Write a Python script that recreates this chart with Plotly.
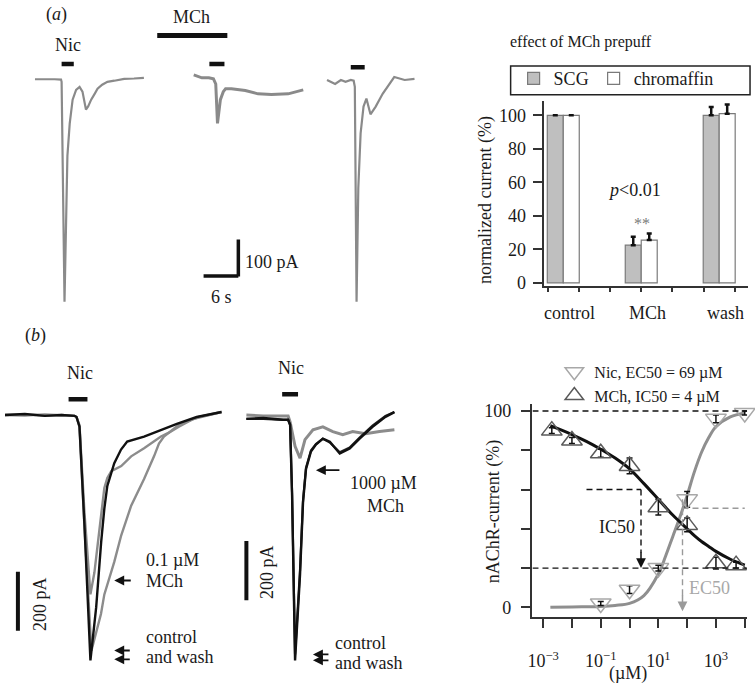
import math
import plotly.graph_objects as go

W, H = 755, 691
FONT = "Liberation Serif"
INK = "#1a1a1a"
GRAY = "#8a8a8a"

# ---------------- DATA ----------------
# (a) whole-cell current sweeps: time (s), current (pA)
a_sweep1_t = [0.2, 1.9, 3.6, 4.7, 4.8, 5.3, 5.8, 6.2, 6.7, 7.3, 7.9, 8.4, 9.0, 9.4, 9.9, 10.5, 11.0, 11.8, 12.7, 13.9, 15.6, 17.3, 19.0]
a_sweep1_i = [-1, 0, -1, -2, -8, -611, -211, -122, -57, -30, -22, -35, -84, -75, -57, -41, -27, -16, -8, -5, 0, 1, 3]
a_sweep2_t = [27.6, 29.0, 30.2, 31.0, 31.4, 31.7, 32.2, 32.7, 33.1, 34.1, 36.5, 38.7, 41.0, 43.9, 46.5]
a_sweep2_i = [11, 3, 3, 0, -14, -122, -57, -35, -27, -27, -32, -41, -43, -41, -30]
a_sweep3_t = [50.6, 52.0, 53.0, 53.8, 54.7, 55.2, 55.4, 55.7, 56.0, 56.4, 56.9, 57.4, 58.1, 59.0, 60.2, 61.4, 62.2, 64.0, 65.7]
a_sweep3_i = [-3, -14, -3, -8, -3, -5, -22, -611, -300, -149, -76, -54, -97, -76, -41, -14, 5, -3, 0]
a_nic_times = [[4.8, 6.9], [30.3, 32.9], [54.7, 57.1]]
a_mch_time = [21.3, 33.4]
a_scale_t = 6      # s
a_scale_i = 100    # pA

# (a) bar chart: effect of MCh prepuff
bar_categories = ["control", "MCh", "wash"]
scg_values = [100, 22.5, 100]
scg_err = [None, 5, 5]
chromaffin_values = [100, 25.5, 101]
chromaffin_err = [None, 4, 5.5]

# (b) left: 0.1 uM MCh (time s, current pA)
b1_control_t = [0, 1, 2, 2.85, 3.5, 3.6, 3.75, 4.0, 4.3, 4.59, 4.84, 5.0, 5.15, 5.5, 5.84, 6.15, 7.0, 7.84, 8.65, 9.65, 10.9]
b1_control_i = [0, 3, -3, 0, -3, -7, -40, -373, -830, -650, -430, -317, -240, -163, -117, -90, -73, -50, -30, -7, 10]
b1_mch_t = [0, 1, 2, 2.85, 3.5, 3.6, 3.75, 4.0, 4.3, 4.5, 4.75, 5.0, 5.15, 5.35, 5.85, 6.35, 7.0, 7.5, 7.85, 8.25, 8.75, 9.5, 10.9]
b1_mch_i = [0, 2, -2, 0, -3, -7, -35, -330, -607, -533, -390, -247, -213, -190, -173, -140, -113, -90, -73, -60, -40, -13, 10]
b1_wash_t = [0, 1, 2, 2.85, 3.5, 3.6, 3.75, 4.0, 4.35, 4.83, 5.0, 5.5, 5.85, 6.35, 7.0, 7.5, 7.75, 8.0, 8.75, 9.75, 10.9]
b1_wash_i = [0, -2, 2, 0, -3, -7, -40, -380, -797, -673, -607, -497, -407, -307, -217, -140, -97, -73, -33, -7, 10]
b1_nic_time = [3.2, 4.15]

# (b) middle: 1000 uM MCh
b2_control_t = [0.65, 1.5, 2.5, 2.75, 2.85, 2.95, 3.1, 3.25, 3.35, 3.5, 3.65, 3.9, 4.15, 4.5, 4.85, 5.35, 5.85, 6.35, 7.0, 7.65, 8.1]
b2_control_i = [0, 3, -3, -3, -20, -260, -817, -660, -527, -283, -170, -110, -87, -67, -77, -117, -100, -67, -27, 7, 23]
b2_wash_t = [0.65, 1.5, 2.5, 2.75, 2.85, 2.95, 3.1, 3.25, 3.35, 3.5, 3.65, 3.9, 4.15, 4.5, 4.85, 5.35, 5.85, 6.35, 7.0, 7.65, 8.1]
b2_wash_i = [0, 0, -3, -3, -20, -250, -797, -640, -510, -275, -165, -107, -85, -67, -80, -113, -97, -63, -23, 10, 23]
b2_mch_t = [0.65, 1.5, 2.5, 2.75, 2.85, 3.1, 3.35, 3.6, 4.0, 4.5, 5.0, 5.5, 6.0, 6.65, 7.35, 8.1]
b2_mch_i = [13, 10, 10, 10, -10, -93, -133, -70, -37, -27, -43, -53, -43, -50, -43, -37]
b2_nic_time = [2.45, 3.25]
b_scale_i = 200  # pA

# (b) right: concentration-response (uM, %)
nic_conc = [0.1, 1, 10, 100, 1000, 10000]
nic_resp = [2, 9, 20, 55, 96, 99]
nic_err = [1, 2, 1.5, 4, 2, 1]
mch_conc = [0.002, 0.01, 0.1, 1, 10, 100, 1000, 5000]
mch_resp = [90, 85, 78.5, 72, 51, 42, 22.5, 21.5]
mch_err = [1.5, 1.5, 2, 4, 4, 3.5, 3, 1.5]
fit_conc = [0.00178, 0.01, 0.0316, 0.1, 0.316, 1, 3.16, 10, 17.8, 31.6, 56.2, 100, 178, 316, 562, 1000, 3162, 10000]
mch_fit = [92.5, 88, 84.5, 80.5, 76, 70.5, 63, 55, 51, 47, 43.5, 40, 36.5, 33.5, 31, 28.5, 24.5, 21.5]
nic_fit = [0, 0.2, 0.3, 0.5, 1, 2, 6, 17, 26, 36, 46, 57, 69, 79, 86.5, 92, 97, 99]
ic50_marker = 2.5      # uM, where the IC50 arrow is drawn
ec50_marker = 69       # uM
x_tick_vals = [1e-3, 1e-2, 1e-1, 1, 10, 100, 1000, 10000]
x_tick_text = ["10<sup>−3</sup>", "", "10<sup>−1</sup>", "", "10<sup>1</sup>", "", "10<sup>3</sup>", ""]

# ---------------- helpers ----------------
def fx(p):
    return p / W

def fy(p):
    return 1 - p / H

fig = go.Figure()

def line(x, y, xa, ya, color, width):
    fig.add_trace(go.Scatter(x=x, y=y, xaxis=xa, yaxis=ya, mode="lines",
                             line=dict(color=color, width=width), showlegend=False,
                             hoverinfo="skip"))

# (a) sweeps
line(a_sweep1_t, a_sweep1_i, "x", "y", GRAY, 2.2)
line(a_sweep2_t, a_sweep2_i, "x", "y", GRAY, 3)
line(a_sweep3_t, a_sweep3_i, "x", "y", GRAY, 2.2)

# (b) sweeps
line(b1_wash_t, b1_wash_i, "x2", "y2", "#8c8c8c", 2.4)
line(b1_mch_t, b1_mch_i, "x2", "y2", "#8c8c8c", 2.4)
line(b1_control_t, b1_control_i, "x2", "y2", "#111111", 2.4)
line(b2_mch_t, b2_mch_i, "x3", "y3", "#8c8c8c", 3)
line(b2_wash_t, b2_wash_i, "x3", "y3", "#222222", 2.2)
line(b2_control_t, b2_control_i, "x3", "y3", "#111111", 2.4)

# (a) bar chart
cat_pos = list(range(len(bar_categories)))
fig.add_trace(go.Bar(x=cat_pos, y=scg_values, name="SCG", xaxis="x4", yaxis="y4",
                     marker=dict(color="#bfbfbf", line=dict(color="#7a7a7a", width=1.2)),
                     error_y=dict(type="data", array=scg_err, arrayminus=[0, 0, 0], symmetric=False,
                                  color="#111", thickness=2.5, width=2.5)))
fig.add_trace(go.Bar(x=cat_pos, y=chromaffin_values, name="chromaffin", xaxis="x4", yaxis="y4",
                     marker=dict(color="white", line=dict(color="#7a7a7a", width=1.2)),
                     error_y=dict(type="data", array=chromaffin_err, arrayminus=[0, 0, 0], symmetric=False,
                                  color="#111", thickness=2.5, width=2.5)))
label_shift = 0.08
fig.add_trace(go.Scatter(x=[c + label_shift for c in cat_pos], y=[None] * 3, xaxis="x5", yaxis="y4",
                         showlegend=False, hoverinfo="skip", mode="markers"))

# (b) concentration-response
fig.add_trace(go.Scatter(x=fit_conc, y=nic_fit, xaxis="x6", yaxis="y6", mode="lines",
                         line=dict(color="#8f8f8f", width=3, shape="spline"), showlegend=False, hoverinfo="skip"))
fig.add_trace(go.Scatter(x=fit_conc, y=mch_fit, xaxis="x6", yaxis="y6", mode="lines",
                         line=dict(color="#111", width=3, shape="spline"), showlegend=False, hoverinfo="skip"))
fig.add_trace(go.Scatter(x=nic_conc, y=nic_resp, xaxis="x6", yaxis="y6", mode="markers",
                         name="Nic, EC50 = 69 µM", legend="legend2", cliponaxis=False,
                         marker=dict(symbol="triangle-down-open", size=18, color="#a8a8a8",
                                     line=dict(width=1.5, color="#a8a8a8")),
                         error_y=dict(type="data", array=nic_err, color="#111", thickness=1.5, width=3)))
fig.add_trace(go.Scatter(x=mch_conc, y=mch_resp, xaxis="x6", yaxis="y6", mode="markers",
                         name="MCh, IC50 = 4 µM", legend="legend2", cliponaxis=False,
                         marker=dict(symbol="triangle-up-open", size=18, color="#5a5a5a",
                                     line=dict(width=1.5, color="#5a5a5a")),
                         error_y=dict(type="data", array=mch_err, color="#111", thickness=1.5, width=3)))

# ---------------- shapes ----------------
shapes = []

def seg(x0, y0, x1, y1, xref, yref, color="#111", width=4, dash=None):
    d = dict(type="line", x0=x0, y0=y0, x1=x1, y1=y1, xref=xref, yref=yref,
             line=dict(color=color, width=width))
    if dash:
        d["line"]["dash"] = dash
    shapes.append(d)

# (a) stimulus bars
nic_levels_a = [40.5, 40.5, 32]
for (t0, t1), lev in zip(a_nic_times, nic_levels_a):
    seg(t0, lev, t1, lev, "x", "y", width=4.5)
seg(a_mch_time[0], 119, a_mch_time[1], 119, "x", "y", width=5)
# (a) scale bar
sb_t, sb_i = 29.3, -540.5
seg(sb_t, sb_i, sb_t + a_scale_t, sb_i, "x", "y", width=3.5)
seg(sb_t + a_scale_t, sb_i - 1.5, sb_t + a_scale_t, sb_i + a_scale_i, "x", "y", width=3.5)
# (b) stimulus bars and scale bars
seg(b1_nic_time[0], 53, b1_nic_time[1], 53, "x2", "y2", width=4.5)
seg(b2_nic_time[0], 83, b2_nic_time[1], 83, "x3", "y3", width=4.5)
seg(0.65, -530, 0.65, -530 - b_scale_i, "x2", "y2", width=4)
seg(0.65, -413, 0.65, -413 - b_scale_i, "x3", "y3", width=4)

# legend frame of the bar chart
shapes.append(dict(type="rect", xref="paper", yref="paper", x0=fx(509), x1=fx(750),
                   y0=fy(93), y1=fy(64), line=dict(color="#222", width=1.5)))

# concentration-response dashed guides
xlo, xhi = 10 ** -3.37, 10 ** 4.08
seg(xlo, 100, xhi, 100, "x6", "y6", width=1.4, dash="6px,4px")
seg(xlo, 20, xhi, 20, "x6", "y6", width=1.4, dash="6px,4px")
seg(0.032, 60, ic50_marker, 60, "x6", "y6", width=1.4, dash="6px,4px")
seg(ic50_marker, 60, ic50_marker, 28, "x6", "y6", width=1.4, dash="6px,4px")
seg(ec50_marker, 50.5, 10000, 50.5, "x6", "y6", color="#9a9a9a", width=1.4, dash="6px,4px")
seg(ec50_marker, 55, ec50_marker, 6, "x6", "y6", color="#9a9a9a", width=1.4, dash="6px,4px")

# ---------------- annotations ----------------
ann = []

def txt(s, x, y, size=18, xanchor="center", color=INK, angle=0):
    ann.append(dict(text=s, x=fx(x), y=fy(y), xref="paper", yref="paper", showarrow=False,
                    font=dict(family=FONT, size=size, color=color), xanchor=xanchor,
                    yanchor="middle", textangle=angle))

def arrow(hx, hy, dx, dy=0, color="#111"):
    ann.append(dict(text="", x=fx(hx), y=fy(hy), xref="paper", yref="paper", ax=dx, ay=dy,
                    showarrow=True, arrowhead=2, arrowsize=1.1, arrowwidth=1.8,
                    arrowcolor=color, standoff=0))

txt("(<i>a</i>)", 52, 12)
txt("Nic", 63, 43)
txt("MCh", 188, 14)
txt("100 pA", 240, 263, xanchor="left")
txt("6 s", 218, 298)
txt("effect of MCh prepuff", 580, 40, size=16)
txt("<i>p</i><0.01", 634, 190)
txt("**", 641, 224, size=16, color="#7a7a7a")
txt("normalized current (%)", 483, 200, angle=-90)

txt("(<i>b</i>)", 31, 337)
txt("Nic", 76, 375)
txt("Nic", 288, 370)
txt("200 pA", 35, 610, angle=-90)
txt("200 pA", 263, 577, angle=-90)
txt("0.1 µM", 140, 565, xanchor="left")
txt("MCh", 140, 586, xanchor="left")
txt("control", 140, 643, xanchor="left")
txt("and wash", 140, 664, xanchor="left")
txt("1000 µM", 381, 487)
txt("MCh", 383, 510)
txt("control", 330, 649, xanchor="left")
txt("and wash", 330, 670, xanchor="left")
arrow(110, 586, 18)
arrow(110, 657, 17)
arrow(110, 666, 17)
arrow(313, 474, 25)
arrow(310, 661, 17)
arrow(310, 667, 17)

txt("nAChR-current (%)", 492, 516, angle=-90)
txt("(µM)", 627, 680)
txt("IC50", 636, 532, xanchor="right")
txt("EC50", 687, 594, xanchor="left", color="#a8a8a8")
# arrow heads of the IC50 / EC50 guides
ann.append(dict(text="", x=math.log10(ic50_marker), y=20, xref="x6", yref="y6",
                ax=math.log10(ic50_marker), ay=29, axref="x6", ayref="y6", showarrow=True,
                arrowhead=2, arrowsize=1.3, arrowwidth=1.5, arrowcolor="#111", standoff=0))
ann.append(dict(text="", x=math.log10(ec50_marker), y=-2, xref="x6", yref="y6",
                ax=math.log10(ec50_marker), ay=7, axref="x6", ayref="y6", showarrow=True,
                arrowhead=2, arrowsize=1.3, arrowwidth=1.5, arrowcolor="#9a9a9a", standoff=0))

axis_common = dict(showgrid=False, zeroline=False)
fig.update_layout(
    width=W, height=H, margin=dict(l=0, r=0, t=0, b=0),
    paper_bgcolor="white", plot_bgcolor="white",
    font=dict(family=FONT, size=18, color=INK),
    barmode="group", bargap=0.59, bargroupgap=0,
    shapes=shapes, annotations=ann,
    xaxis=dict(domain=[0, fx(420)], range=[-4.97, 67.03], visible=False, anchor="y"),
    yaxis=dict(domain=[fy(315), 1], range=[-643.2, 208.1], visible=False, anchor="x"),
    xaxis2=dict(domain=[0, fx(225)], range=[0, 11.25], visible=False, anchor="y2"),
    yaxis2=dict(domain=[0, fy(360)], range=[-910, 193.3], visible=False, anchor="x2"),
    xaxis3=dict(domain=[fx(230), fx(395)], range=[0, 8.25], visible=False, anchor="y3"),
    yaxis3=dict(domain=[0, fy(360)], range=[-896.7, 206.7], visible=False, anchor="x3"),
    xaxis4=dict(domain=[fx(543), fx(748)], range=[-0.242, 2.37], anchor="y4",
                showline=True, linecolor="#333", linewidth=1.5,
                ticks="outside", ticklen=4, tickwidth=1.5, tickcolor="#333",
                tickvals=[-0.2, 0.2, 0.6, 1.0, 1.4, 1.8, 2.2], showticklabels=False, **axis_common),
    xaxis5=dict(overlaying="x4", anchor="y4", range=[-0.242, 2.37],
                tickvals=[c + label_shift for c in cat_pos], ticktext=bar_categories,
                ticks="", showline=False, tickfont=dict(size=18), ticklabelstandoff=14, **axis_common),
    yaxis4=dict(domain=[fy(287), fy(99)], range=[-1.8, 108.8], anchor="x4",
                showline=True, linecolor="#333", linewidth=1.5,
                ticks="outside", ticklen=10, tickwidth=1.5, tickcolor="#333",
                tickvals=[0, 20, 40, 60, 80, 100], tickfont=dict(size=18), ticklabelstandoff=3,
                **axis_common),
    xaxis6=dict(type="log", domain=[fx(531), fx(747)], range=[-3.37, 4.08], anchor="y6",
                showline=True, linecolor="#333", linewidth=1.5,
                ticks="outside", ticklen=9, tickwidth=1.5, tickcolor="#333",
                tickvals=x_tick_vals, ticktext=x_tick_text, tickfont=dict(size=18),
                ticklabelstandoff=18, **axis_common),
    yaxis6=dict(domain=[fy(623), fy(407)], range=[-4.9, 103.5], anchor="x6",
                showline=True, linecolor="#333", linewidth=1.5,
                ticks="outside", ticklen=10, tickwidth=1.5, tickcolor="#333",
                tickvals=[0, 20, 40, 60, 80, 100], ticktext=["0", "", "", "", "", "100"],
                tickfont=dict(size=18), ticklabelstandoff=6, **axis_common),
    legend=dict(x=fx(512), y=fy(58), xanchor="left", yanchor="top", orientation="h",
                borderwidth=0, bgcolor="rgba(0,0,0,0)", font=dict(size=18),
                itemclick=False),
    legend2=dict(x=fx(553), y=fy(357), xanchor="left", yanchor="top",
                 bgcolor="rgba(0,0,0,0)", font=dict(size=16), tracegroupgap=0),
)

fig.write_html("out.html", config={"displayModeBar": False},
               post_script="document.body.style.margin='0px';document.body.style.overflow='hidden';")
